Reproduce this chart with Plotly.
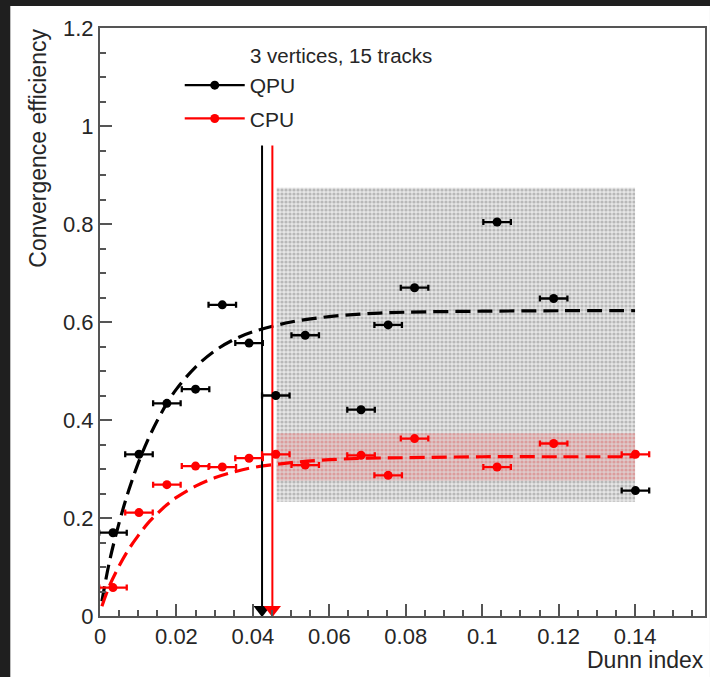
import plotly.graph_objects as go

# ---------------- data ----------------
qpu_x = [0.0034, 0.0102, 0.0175, 0.0250, 0.0320, 0.0390, 0.0460, 0.0537,
         0.0683, 0.0754, 0.0823, 0.1039, 0.1187, 0.1401]
qpu_y = [0.170, 0.330, 0.434, 0.463, 0.635, 0.557, 0.450, 0.573,
         0.421, 0.594, 0.670, 0.804, 0.648, 0.256]
cpu_x = qpu_x
cpu_y = [0.058, 0.211, 0.268, 0.306, 0.304, 0.322, 0.330, 0.308,
         0.328, 0.287, 0.362, 0.304, 0.352, 0.330]
x_err = [0.0036] * len(qpu_x)

fit_x = [0.0005, 0.0025, 0.005, 0.0075, 0.01, 0.0125, 0.015, 0.0175, 0.02,
         0.025, 0.03, 0.035, 0.04, 0.05, 0.06, 0.07, 0.08, 0.10, 0.12, 0.14]
qpu_fit = [0.030, 0.112, 0.190, 0.256, 0.312, 0.359, 0.399, 0.434, 0.463,
           0.508, 0.541, 0.564, 0.580, 0.600, 0.611, 0.617, 0.620, 0.622, 0.623, 0.623]
cpu_fit = [0.020, 0.062, 0.102, 0.136, 0.164, 0.189, 0.209, 0.227, 0.242,
           0.265, 0.282, 0.294, 0.303, 0.313, 0.319, 0.322, 0.323, 0.325, 0.325, 0.325]

band_x = [0.0462, 0.1400]
qpu_band = [0.233, 0.874]
cpu_band = [0.276, 0.373]

qpu_cut = 0.0424
cpu_cut = 0.0451
cut_top = 0.96

x_ticks = [0, 0.02, 0.04, 0.06, 0.08, 0.10, 0.12, 0.14]
x_ticklabels = ["0", "0.02", "0.04", "0.06", "0.08", "0.1", "0.12", "0.14"]
y_ticks = [0, 0.2, 0.4, 0.6, 0.8, 1.0, 1.2]
y_ticklabels = ["0", "0.2", "0.4", "0.6", "0.8", "1", "1.2"]

RED = "#ff0000"
FONT = "Liberation Sans"
TXT = "#262626"

fig = go.Figure()

def box(xr, yr, fg, bg, name):
    fig.add_trace(go.Scatter(
        x=[xr[0], xr[1], xr[1], xr[0], xr[0]],
        y=[yr[0], yr[0], yr[1], yr[1], yr[0]],
        mode="lines", fill="toself", line=dict(width=0),
        fillcolor=bg,
        fillpattern=dict(shape=".", size=4, solidity=0.5, fgcolor=fg, bgcolor=bg),
        showlegend=False, hoverinfo="skip", name=name))

box(band_x, qpu_band, "#8a8a8a", "rgba(230,230,230,1)", "qpu band")
box(band_x, cpu_band, "rgba(215,100,100,0.9)", "rgba(222,202,202,1)", "cpu band")

# fits
fig.add_trace(go.Scatter(x=fit_x, y=qpu_fit, mode="lines", line=dict(color="black", width=3.2, dash="15px,7px", shape="spline"),
                         showlegend=False, hoverinfo="skip"))
fig.add_trace(go.Scatter(x=fit_x, y=cpu_fit, mode="lines", line=dict(color=RED, width=3.2, dash="15px,7px", shape="spline"),
                         showlegend=False, hoverinfo="skip"))

# cut lines
for xc, col in [(qpu_cut, "black"), (cpu_cut, RED)]:
    fig.add_trace(go.Scatter(x=[xc, xc], y=[0, cut_top], mode="lines", line=dict(color=col, width=2),
                             showlegend=False, hoverinfo="skip"))
    fig.add_trace(go.Scatter(x=[xc], y=[0.013], mode="markers",
                             marker=dict(symbol="triangle-down", size=15, color=col, line=dict(width=0)),
                             showlegend=False, hoverinfo="skip"))

# points
fig.add_trace(go.Scatter(x=qpu_x, y=qpu_y, mode="markers", marker=dict(color="black", size=9),
                         error_x=dict(type="data", array=x_err, color="black", thickness=2.3, width=3),
                         showlegend=False))
fig.add_trace(go.Scatter(x=cpu_x, y=cpu_y, mode="markers", marker=dict(color=RED, size=9),
                         error_x=dict(type="data", array=x_err, color=RED, thickness=2.3, width=3),
                         showlegend=False))

# legend entries
fig.add_trace(go.Scatter(x=[None], y=[None], mode="lines+markers", name="QPU", legendgroup="q",
                         line=dict(color="black", width=2.3), marker=dict(color="black", size=9)))
fig.add_trace(go.Scatter(x=[None], y=[None], mode="lines+markers", name="CPU", legendgroup="c",
                         line=dict(color=RED, width=2.3), marker=dict(color=RED, size=9)))

axis_common = dict(
    showline=True, linecolor="#555555", linewidth=2, mirror=True,
    ticks="inside", ticklen=12, tickwidth=1.5, tickcolor="#555555",
    showgrid=False, zeroline=False,
    tickfont=dict(family=FONT, size=22, color=TXT),
)
fig.update_xaxes(range=[0, 0.1583], tickvals=x_ticks, ticktext=x_ticklabels,
                 minor=dict(dtick=0.005, ticks="inside", ticklen=6, tickcolor="#555555", tickwidth=1.5, showgrid=False),
                 **axis_common)
fig.update_yaxes(range=[0, 1.2], tickvals=y_ticks, ticktext=y_ticklabels,
                 minor=dict(dtick=0.05, ticks="inside", ticklen=6, tickcolor="#555555", tickwidth=1.5, showgrid=False),
                 **axis_common)

W, H = 710, 677
L, R, T, B = 100, 3, 28, 61
pw, ph = W - L - R, H - T - B
def px(xp):
    return (xp - L) / pw
def py(yp):
    return (H - B - yp) / ph

fig.update_layout(
    width=W, height=H,
    margin=dict(l=L, r=R, t=T, b=B),
    paper_bgcolor="#1f1f1f", plot_bgcolor="white",
    font=dict(family=FONT, color=TXT),
    shapes=[dict(type="rect", xref="paper", yref="paper", x0=px(10), x1=px(712), y0=py(679), y1=py(6),
                 fillcolor="white", line=dict(width=0), layer="below")],
    annotations=[
        dict(text="3 vertices, 15 tracks", xref="paper", yref="paper", x=px(342), y=py(55),
             xanchor="center", yanchor="middle", showarrow=False, font=dict(family=FONT, size=20.5, color=TXT)),
        dict(text="Convergence efficiency", xref="paper", yref="paper", x=px(38), y=py(27), textangle=-90,
             xanchor="center", yanchor="top", showarrow=False, font=dict(family=FONT, size=23, color=TXT)),
        dict(text="Dunn index", xref="paper", yref="paper", x=px(708), y=py(660),
             xanchor="right", yanchor="middle", showarrow=False, font=dict(family=FONT, size=23, color=TXT)),
    ],
    legend=dict(x=px(180), y=py(65), xanchor="left", yanchor="top", bgcolor="rgba(0,0,0,0)",
                font=dict(family=FONT, size=21, color=TXT), itemwidth=60, tracegroupgap=3),
    showlegend=True,
)

fig.write_html("out.html")
